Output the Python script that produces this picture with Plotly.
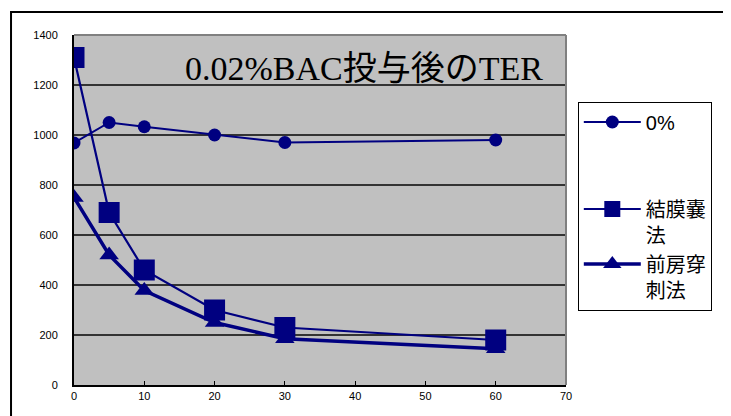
import plotly.graph_objects as go

time_min = [0, 5, 10, 20, 30, 60]
ser_0 = [968, 1050, 1033, 1000, 970, 980]
ser_conj = [1310, 690, 460, 300, 230, 180]
ser_ac = [750, 520, 378, 250, 185, 145]
names = ["0%", "結膜嚢<br>法", "前房穿<br>刺法"]
title_text = "0.02%BAC投与後のTER"

NAVY = "#000080"
fig = go.Figure()
fig.add_trace(go.Scatter(x=time_min, y=ser_0, name=names[0], mode="lines+markers",
                         line=dict(color=NAVY, width=2), legendgroup="a",
                         marker=dict(symbol="circle", size=13, color=NAVY)))
fig.add_trace(go.Scatter(x=time_min, y=ser_conj, name=names[1], mode="lines+markers",
                         line=dict(color=NAVY, width=2.2), legendgroup="b",
                         marker=dict(symbol="square", size=21, color=NAVY)))
fig.add_trace(go.Scatter(x=time_min, y=ser_ac, name=names[2], mode="lines+markers",
                         line=dict(color=NAVY, width=3.5), legendgroup="b",
                         marker=dict(symbol="triangle-up", size=17, color=NAVY)))

fig.add_annotation(x=41.3, y=1268, text=title_text, showarrow=False,
                   font=dict(family="Liberation Serif, Noto Sans CJK JP", size=34, color="black"))

# outer chart frame
fig.add_shape(type="rect", xref="paper", yref="paper", x0=-0.128, x1=1.6, y0=-0.3, y1=1.0657,
              line=dict(color="black", width=2), layer="below")
# gray plot border top/right
fig.add_shape(type="line", xref="paper", yref="paper", x0=0, x1=1, y0=1, y1=1,
              line=dict(color="#808080", width=2), layer="above")
fig.add_shape(type="line", xref="paper", yref="paper", x0=1, x1=1, y0=0, y1=1,
              line=dict(color="#808080", width=2), layer="above")

fig.update_layout(
    width=723, height=408,
    margin=dict(l=66, r=165, t=27, b=31, autoexpand=False),
    paper_bgcolor="white", plot_bgcolor="#c0c0c0",
    font=dict(family="Liberation Sans, Noto Sans CJK JP", color="black"),
    showlegend=True,
    legend=dict(x=1.024, xanchor="left", y=0.81, yanchor="top",
                bgcolor="white", bordercolor="black", borderwidth=1,
                font=dict(size=20, family="Liberation Sans, Noto Sans CJK JP"),
                valign="top", tracegroupgap=58, itemwidth=57,
                traceorder="grouped"),
)
fig.update_xaxes(range=[0, 70], dtick=10, showgrid=False, showline=True, linecolor="black",
                 linewidth=2, ticks="inside", ticklen=4, tickcolor="black",
                 tickfont=dict(size=11), zeroline=False)
fig.update_yaxes(range=[0, 1400], dtick=200, showgrid=True, gridcolor="#333333", gridwidth=1.5,
                 showline=True, linecolor="black", linewidth=2, ticks="",
                 ticklabelstandoff=12, tickfont=dict(size=11), zeroline=False)

fig.write_html("out.html")
